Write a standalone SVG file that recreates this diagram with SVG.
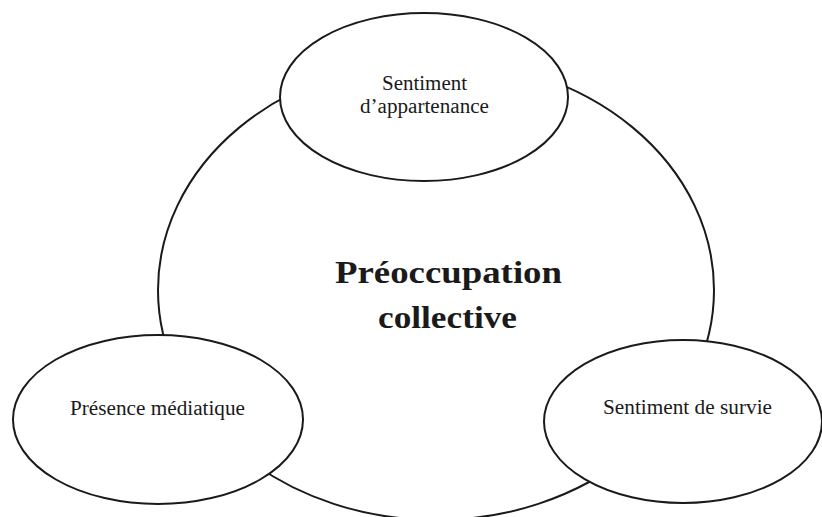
<svg xmlns="http://www.w3.org/2000/svg" width="822" height="517" viewBox="0 0 822 517">
<style>
.shape{fill:#fff;stroke:#1a1a1a;stroke-width:2}
.lbl{font-family:"Liberation Serif","Times New Roman",serif;font-size:20.5px;fill:#1a1a1a;text-anchor:middle}
.big{font-family:"Liberation Serif","Times New Roman",serif;font-size:31px;font-weight:bold;fill:#1a1a1a;text-anchor:middle}
</style>
<rect width="822" height="517" fill="#fff"/>
<g id="preoccupation">
<ellipse class="shape" cx="436" cy="290" rx="278" ry="230"/>
<text class="big" x="448.5" y="283" textLength="227" lengthAdjust="spacingAndGlyphs">Préoccupation</text>
<text class="big" x="447.5" y="328" textLength="139" lengthAdjust="spacingAndGlyphs">collective</text>
</g>
<g id="appartenance">
<ellipse class="shape" cx="424" cy="97" rx="144" ry="84"/>
<text class="lbl" x="424.5" y="90" textLength="85" lengthAdjust="spacingAndGlyphs">Sentiment</text>
<text class="lbl" x="424.5" y="113" textLength="129" lengthAdjust="spacingAndGlyphs">d’appartenance</text>
</g>
<g id="mediatique">
<ellipse class="shape" cx="158" cy="419.5" rx="145" ry="84.5"/>
<text class="lbl" x="157.5" y="415" textLength="175" lengthAdjust="spacingAndGlyphs">Présence médiatique</text>
</g>
<g id="survie">
<ellipse class="shape" cx="683" cy="421.5" rx="139" ry="81.5"/>
<text class="lbl" x="687.5" y="414" textLength="169" lengthAdjust="spacingAndGlyphs">Sentiment de survie</text>
</g>
</svg>
